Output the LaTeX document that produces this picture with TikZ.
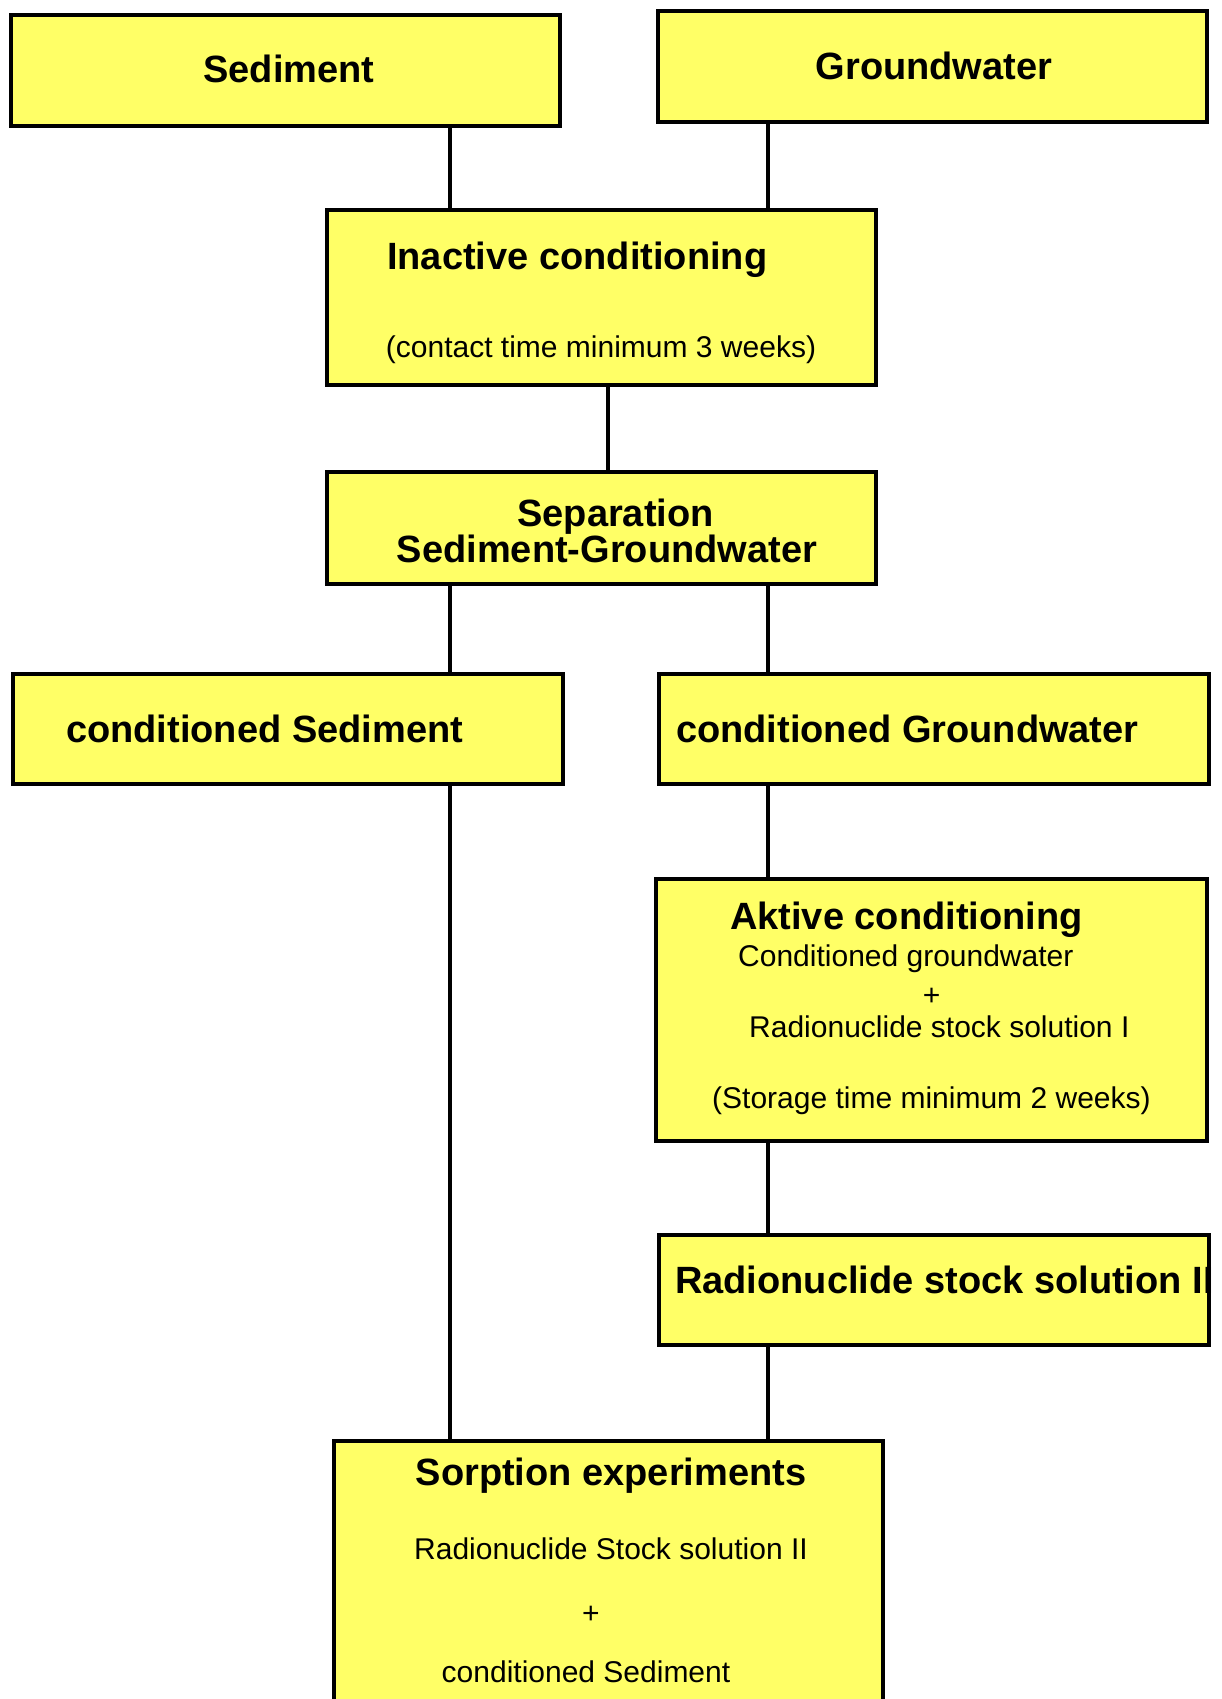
\documentclass[tikz,border=0pt]{standalone}
\usepackage{fontspec}
\setmainfont{Liberation Sans}
\definecolor{boxyellow}{RGB}{255,255,102}
\begin{document}
\begin{tikzpicture}[x=1pt,y=-1pt,
  box/.style 2 args={draw=black,line width=3.8pt,fill=boxyellow,rectangle,inner sep=0pt,outer sep=0pt,minimum width=#1,minimum height=#2},
  hd/.style={font=\fontsize{38}{44}\selectfont\bfseries,inner sep=0pt},
  tx/.style={font=\fontsize{30}{36}\selectfont,inner sep=0pt},
  link/.style={line width=3.3pt}]
\useasboundingbox (0,0) rectangle (1222,1699);
% boxes
\node[box={549}{111}] (sed)   at (285.5,70.5) {};
\node[box={549}{111}] (gw)    at (932.5,66.5) {};
\node[box={549}{175}] (inact) at (601.5,297.5) {};
\node[box={549}{112}] (sep)   at (601.5,528) {};
\node[box={550}{110}] (csed)  at (288,729) {};
\node[box={550}{110}] (cgw)   at (934,729) {};
\node[box={551}{262}] (akt)   at (931.5,1010) {};
\node[box={550}{110}] (rs2)   at (934,1290) {};
\node[box={549}{319}] (sorp)  at (608.5,1600.5) {};
% column positions
\coordinate (xl) at (450,0);
\coordinate (xm) at (608,0);
\coordinate (xr) at (768,0);
% connectors
\draw[link] (sed.south -| xl) -- (inact.north -| xl);
\draw[link] (gw.south -| xr) -- (inact.north -| xr);
\draw[link] (inact.south -| xm) -- (sep.north -| xm);
\draw[link] (sep.south -| xl) -- (csed.north -| xl);
\draw[link] (sep.south -| xr) -- (cgw.north -| xr);
\draw[link] (cgw.south -| xr) -- (akt.north -| xr);
\draw[link] (akt.south -| xr) -- (rs2.north -| xr);
\draw[link] (csed.south -| xl) -- (sorp.north -| xl);
\draw[link] (rs2.south -| xr) -- (sorp.north -| xr);
% texts
\node[hd,anchor=base] (tsed) at (289,83) {Sediment};
\node[hd,anchor=base] (tgw) at (934,80) {Groundwater};
\node[hd,anchor=base west] (tin1) at (387,269) {Inactive conditioning};
\node[tx,anchor=base] (tin2) at (601,357) {(contact time minimum 3 weeks)};
\node[hd,anchor=base] (tsep1) at (615.5,526) {Separation};
\node[hd,anchor=base] (tsep2) at (607,562) {Sediment-Groundwater};
\node[hd,anchor=base west] (tcsed) at (66,742) {conditioned Sediment};
\node[hd,anchor=base west] (tcgw) at (676,742) {conditioned Groundwater};
\node[hd,anchor=base west] (tak1) at (730,929) {Aktive conditioning};
\node[tx,anchor=base west] (tak2) at (738,966) {Conditioned groundwater};
\node[tx,anchor=base] (tak3) at (931.5,1005) {+};
\node[tx,anchor=base west] (tak4) at (749,1037) {Radionuclide stock solution I};
\node[tx,anchor=base west] (tak5) at (712,1108) {(Storage time minimum 2 weeks)};
\node[hd,anchor=base west] (trs2) at (675,1293) {Radionuclide stock solution II};
\node[hd,anchor=base] (tso1) at (611,1485) {Sorption experiments};
\node[tx,anchor=base] (tso2) at (611,1559) {Radionuclide Stock solution II};
\node[tx,anchor=base] (tso3) at (591,1623) {+};
\node[tx,anchor=base] (tso4) at (586,1682) {conditioned Sediment};
\end{tikzpicture}
\end{document}
